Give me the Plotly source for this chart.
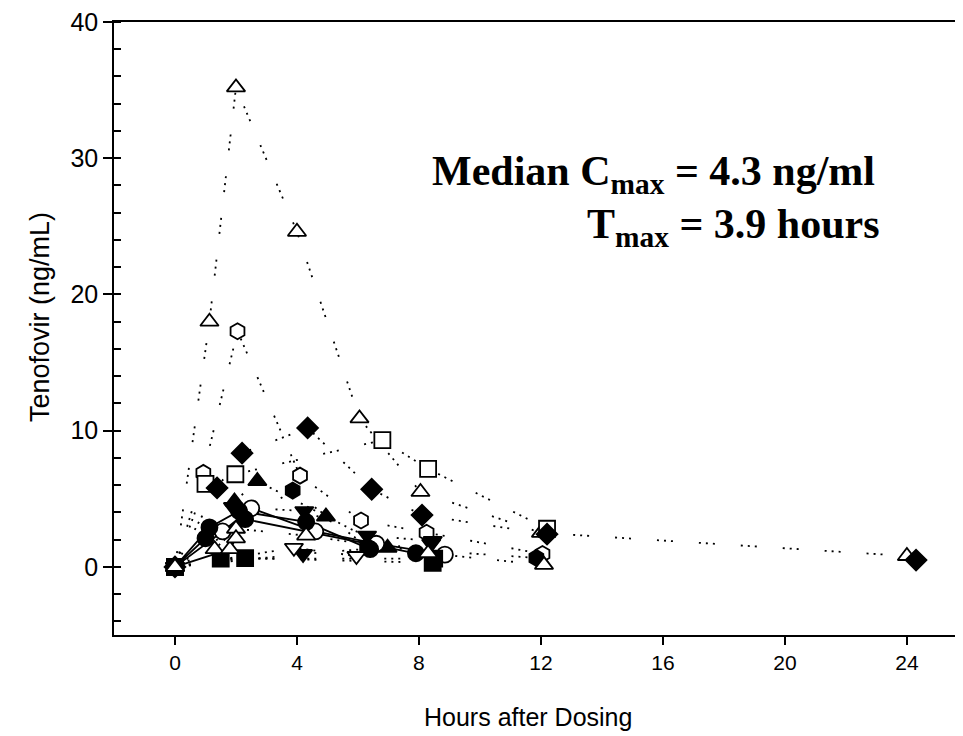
import plotly.graph_objects as go

# ---- data (hours, ng/mL) ----
s1_t = [0, 1.13, 2.0, 4.0, 6.05, 8.05, 12.0, 24.0]
s1_c = [0, 18.0, 35.2, 24.6, 10.9, 5.5, 2.5, 0.8]

s2_t = [0, 0.93, 2.05, 4.1, 6.1, 8.25, 12.05]
s2_c = [0, 6.9, 17.3, 6.7, 3.4, 2.5, 0.95]

s3_t = [0, 1.0, 1.98, 6.8, 8.3, 12.2]
s3_c = [0, 6.1, 6.8, 9.3, 7.2, 2.8]

s4_t = [0, 1.38, 2.2, 4.35, 6.45, 8.1, 12.2, 24.3]
s4_c = [0, 5.8, 8.35, 10.2, 5.7, 3.8, 2.4, 0.5]

s5_t = [0, 1.95, 2.7, 4.95, 6.97]
s5_c = [0, 4.8, 6.3, 3.7, 1.4]

s6_t = [0, 1.56, 2.5, 4.6, 6.6, 8.85]
s6_c = [0, 2.6, 4.3, 2.6, 1.7, 0.9]

s7_t = [0, 1.13, 2.1, 4.3, 6.4]
s7_c = [0, 2.9, 4.1, 3.3, 1.3]

s8_t = [0, 1.0, 2.3, 7.9]
s8_c = [0, 2.1, 3.5, 1.0]

s9_t = [0, 1.9, 4.24, 6.3, 8.45]
s9_c = [0, 4.4, 4.1, 2.3, 1.9]

s10_t = [0, 4.2, 8.4]
s10_c = [0, 0.95, 1.7]

s11_t = [0, 3.9, 5.95]
s11_c = [0, 1.4, 0.8]

s12_t = [0, 1.5, 8.5]
s12_c = [0, 0.6, 0.6]

s13_t = [0, 2.3, 8.45]
s13_c = [0, 0.65, 0.3]

s14_t = [0, 3.86, 6.3, 11.85]
s14_c = [0, 5.6, 1.5, 0.66]

s15_t = [0, 1.3, 2.0, 4.3, 8.3, 12.1]
s15_c = [0, 1.3, 2.8, 2.3, 1.0, 0.15]

s16_t = [0, 1.8, 2.0]
s16_c = [0, 1.3, 2.1]

x_ticks = [0, 4, 8, 12, 16, 20, 24]
y_ticks = [0, 10, 20, 30, 40]

DOT = "2px,5px,2px,5px,2px,26px"
SOLID = "solid"

# (times, conc, symbol, filled, dash, number of points joined by the line)
subjects = [
    (s1_t, s1_c, "triangle-up", False, DOT, None),
    (s2_t, s2_c, "hexagon", False, DOT, None),
    (s3_t, s3_c, "square", False, DOT, None),
    (s4_t, s4_c, "diamond", True, DOT, 7),
    (s5_t, s5_c, "triangle-up", True, DOT, None),
    (s6_t, s6_c, "circle", False, SOLID, None),
    (s7_t, s7_c, "circle", True, SOLID, None),
    (s8_t, s8_c, "circle", True, SOLID, None),
    (s9_t, s9_c, "triangle-down", True, DOT, None),
    (s10_t, s10_c, "triangle-down", True, DOT, None),
    (s11_t, s11_c, "triangle-down", False, DOT, None),
    (s12_t, s12_c, "square", True, DOT, None),
    (s13_t, s13_c, "square", True, DOT, None),
    (s14_t, s14_c, "hexagon", True, DOT, None),
    (s15_t, s15_c, "triangle-up", False, DOT, None),
    (s16_t, s16_c, "triangle-up", False, SOLID, None),
]

fig = go.Figure()
for t, c, sym, filled, dash, nline in subjects:
    n = len(t) if nline is None else nline
    fig.add_trace(go.Scatter(
        x=t[:n], y=c[:n], mode="lines",
        line=dict(color="black", width=1.8, dash=dash),
        showlegend=False, cliponaxis=False, hoverinfo="skip",
    ))
for t, c, sym, filled, dash, nline in subjects:
    fig.add_trace(go.Scatter(
        x=t, y=c, mode="markers",
        marker=dict(symbol=sym, size=16,
                    color="black" if filled else "white",
                    line=dict(color="black", width=1.8)),
        showlegend=False, cliponaxis=False,
    ))

# page body has an 8px margin, so the figure is 8px smaller than the window
fig.update_layout(
    width=955, height=728,
    margin=dict(l=106, r=0, t=10, b=101),
    plot_bgcolor="white", paper_bgcolor="white",
    font=dict(family="Liberation Sans, Arial, sans-serif", color="black"),
    xaxis=dict(
        range=[-2, 25.84], tickvals=x_ticks, ticktext=[str(v) for v in x_ticks],
        showgrid=False, zeroline=False, showline=True, linecolor="black",
        linewidth=1.5, mirror=True, ticks="outside", ticklen=8, tickwidth=1.5,
        tickcolor="black", tickfont=dict(size=21),
    ),
    yaxis=dict(
        range=[-5, 40], tickvals=y_ticks, ticktext=[str(v) for v in y_ticks],
        showgrid=False, zeroline=False, showline=True, linecolor="black",
        linewidth=1.5, ticks="outside", ticklen=9, tickwidth=1.5,
        tickcolor="black", tickfont=dict(size=25), ticklabeloverflow="allow",
        minor=dict(ticks="inside", dtick=2, tick0=0, ticklen=7, tickwidth=1.5,
                   tickcolor="black"),
    ),
)

# short right-side tick marks of the (cropped) right axis
for v in y_ticks[:-1]:
    fig.add_shape(type="line", xref="paper", yref="y", x0=0.996, x1=1.0,
                  y0=v, y1=v, line=dict(color="black", width=1.5))

# axis titles
fig.add_annotation(
    xref="paper", yref="paper", x=(528 - 114) / 849, y=(635 - 718) / 617,
    xanchor="center", yanchor="middle", showarrow=False,
    text="Hours after Dosing", font=dict(size=25, color="black"),
)
fig.add_annotation(
    xref="paper", yref="paper", x=(40 - 114) / 849, y=(635 - 315) / 617,
    xanchor="center", yanchor="middle", showarrow=False, textangle=-90,
    text="Tenofovir (ng/mL)", font=dict(size=27, color="black"),
)

fig.add_annotation(
    xref="paper", yref="paper", x=(877 - 114) / 849, y=(635 - 199) / 617,
    xanchor="right", yanchor="bottom", showarrow=False,
    text="<b>Median C<sub>max</sub> = 4.3 ng/ml</b>",
    font=dict(family="Liberation Serif, Times New Roman, serif", size=42, color="black"),
)
fig.add_annotation(
    xref="paper", yref="paper", x=(882 - 114) / 849, y=(635 - 253) / 617,
    xanchor="right", yanchor="bottom", showarrow=False,
    text="<b>T<sub>max</sub> = 3.9 hours</b>",
    font=dict(family="Liberation Serif, Times New Roman, serif", size=42, color="black"),
)

fig.write_html("out.html")
